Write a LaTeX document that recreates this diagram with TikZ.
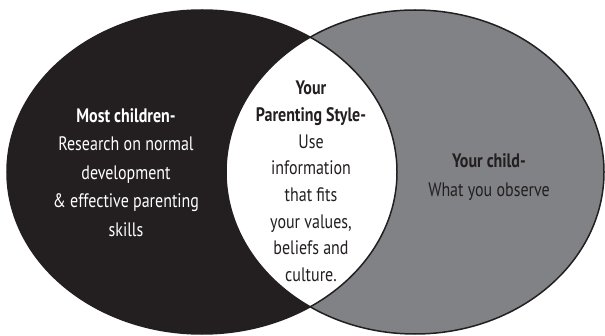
\documentclass[tikz,border=0pt]{standalone}
\usepackage{fontspec}
\setmainfont[FakeStretch=0.82]{PT Sans}
\definecolor{inkblack}{HTML}{231F20}
\definecolor{venngray}{HTML}{808285}
\tikzset{
  vtext/.style={align=center, inner sep=0pt, anchor=base, font=\fontsize{19.5}{28.5}\selectfont},
  ctext/.style={align=center, inner sep=0pt, anchor=base, font=\fontsize{19.5}{26.7}\selectfont},
  outline/.style={draw=inkblack, line width=1.5pt}
}
\begin{document}
\begin{tikzpicture}[x=1pt,y=1pt]
\useasboundingbox (0,0) rectangle (605,335);
% left set
\fill[inkblack] (202,163) ellipse [x radius=195pt, y radius=162pt];
% right set
\fill[venngray] (415,163) ellipse [x radius=189pt, y radius=162pt];
% intersection
\begin{scope}
  \clip (202,163) ellipse [x radius=195pt, y radius=162pt];
  \fill[white] (415,163) ellipse [x radius=189pt, y radius=162pt];
\end{scope}
\path[outline] (202,163) ellipse [x radius=195pt, y radius=162pt];
\path[outline] (415,163) ellipse [x radius=189pt, y radius=162pt];
% texts (anchor=base sits on the last line)
\node[vtext, text=white] (most) at (126,99)
  {\textbf{Most children-}\\Research on normal\\development\\\& effective parenting\\skills};
\node[ctext, text=inkblack] (style) at (311,53.5)
  {\textbf{Your}\\\textbf{Parenting Style-}\\Use\\information\\that fits\\your values,\\beliefs and\\culture.};
\node[vtext, text=inkblack] (child) at (489,139)
  {\textbf{Your child-}\\What you observe};
\end{tikzpicture}
\end{document}
